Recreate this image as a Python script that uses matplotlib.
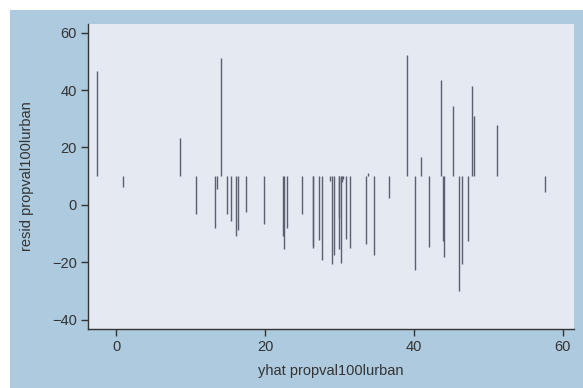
import matplotlib.pyplot as plt
from matplotlib.patches import Rectangle

plt.rcParams['font.family'] = ['Liberation Sans', 'DejaVu Sans']

# fitted values (x) and residuals (spike ends); spikes start at 10
yhat = [-2.55, 0.94, 8.55, 10.7, 13.25, 13.56, 14.14, 14.86, 15.5, 16.15,
        16.4, 17.4, 19.87, 22.4, 22.6, 22.9, 25.0, 26.4, 26.5, 27.2,
        27.6, 28.7, 29.0, 29.3, 29.9, 30.0, 30.2, 30.3, 30.5, 30.9,
        31.4, 33.6, 33.8, 34.7, 36.6, 39.1, 40.1, 41.0, 42.0, 43.6,
        43.9, 44.1, 45.2, 46.1, 46.5, 47.2, 47.8, 48.1, 51.1, 57.6]
resid = [46.7, 6.2, 23.2, -3.0, -8.2, 5.6, 51.1, -3.0, -5.6, -10.7,
         -8.8, -2.3, -6.5, -10.9, -15.5, -8.0, -3.1, -14.2, -15.1, -12.1,
         -19.1, 8.2, -20.4, -17.4, -15.3, -4.4, -20.2, 8.1, 8.9, -11.7,
         -15.1, -13.6, 11.0, -17.3, 2.3, 52.1, -22.8, 16.7, -14.5, 43.6,
         -12.5, -18.1, 34.3, -29.9, -20.6, -12.4, 41.4, 31.1, 27.7, 4.6]
base = 10

fig = plt.figure(figsize=(5.83, 3.88), dpi=100, facecolor='white')
fig.patches.append(Rectangle((10 / 583, 0), 1, 1 - 10 / 388, transform=fig.transFigure,
                             facecolor='#aecadf', edgecolor='none', zorder=-1))

ax = fig.add_axes([88 / 583, (388 - 329) / 388, (574 - 88) / 583, (329 - 24) / 388])
ax.set_facecolor('#e5e9f2')
ax.vlines(yhat, base, resid, color='#5b5f70', linewidth=1)

ax.set_xlim(-3.76, 61.5)
ax.set_ylim(-43.2, 63)
ax.set_xticks([0, 20, 40, 60])
ax.set_yticks([-40, -20, 0, 20, 40, 60])
ax.set_yticklabels(['\u221240', '\u221220', '0', '20', '40', '60'])

for s in ['top', 'right']:
    ax.spines[s].set_visible(False)
for s in ['left', 'bottom']:
    ax.spines[s].set_color('#333333')
    ax.spines[s].set_linewidth(1)
ax.tick_params(direction='out', length=5, width=1, color='#333333',
               labelsize=10.5, labelcolor='#333333', pad=3)

ax.set_xlabel('yhat propval100lurban', fontsize=10.5, color='#333333', labelpad=7)
ax.set_ylabel('resid propval100lurban', fontsize=10.5, color='#333333', labelpad=13)

fig.savefig('out.png', dpi=100, facecolor=fig.get_facecolor())
